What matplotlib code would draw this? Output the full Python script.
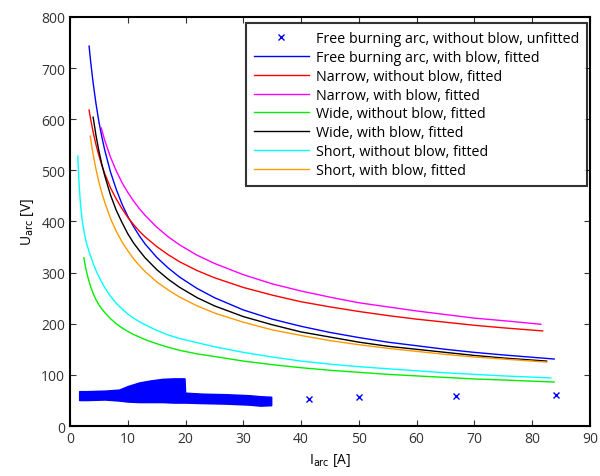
import numpy as np
import matplotlib
matplotlib.use("Agg")
import matplotlib.pyplot as plt

plt.rcParams['font.family'] = ['Open Sans', 'DejaVu Sans']

# --- measured data (unfitted, free burning arc without blow) ---
# dense cloud of measurements: outline of the band (I, upper U, lower U)
band_I = [1.6, 3, 6, 8.5, 10, 12, 14, 16, 18, 19.8, 19.9, 23, 27, 31, 33, 34.8]
band_hi = [68, 68, 69, 71, 78, 85, 89, 92, 93, 93, 65, 63, 62, 60, 58, 57]
band_lo = [51, 51, 52, 50, 48, 47, 47, 47, 46, 46, 46, 45, 44, 42, 40, 41]
# isolated measurement points
pts_I = [34.1, 41.4, 50.0, 66.8, 84.1]
pts_U = [51, 53, 57, 58, 60]

# --- fitted curves, values ---
blue_I = [3.3, 3.6, 4, 4.5, 5, 5.5, 6, 7, 8, 9, 10, 11, 12, 13, 15, 17, 19, 22, 25,
          30, 35, 40, 45, 50, 55, 60, 65, 70, 75, 83.8]
blue_U = [743, 710, 671, 630, 595, 566, 540, 497, 463, 434, 410, 390, 372, 356, 330, 309,
          291, 269, 251, 227, 209, 195, 183, 173, 164, 157, 150, 144, 139, 131]

red_I = [3.3, 3.6, 4, 4.5, 5, 5.5, 6, 7, 8, 9, 10, 11, 12, 13, 15, 17, 19, 22, 25,
         30, 35, 40, 45, 50, 55, 60, 65, 70, 75, 81.8]
red_U = [618, 598, 575, 550, 529, 510, 494, 466, 444, 425, 408, 394, 381, 370, 351, 335,
         321, 304, 290, 271, 256, 243, 233, 224, 216, 209, 203, 197, 192, 186]

mag_I = [5.4, 5.7, 6, 7, 8, 9, 10, 11, 12, 13, 15, 17, 19, 22, 25, 30, 35, 40, 45,
         50, 55, 60, 65, 70, 75, 81.5]
mag_U = [583, 571, 559, 526, 499, 476, 457, 440, 425, 412, 389, 370, 354, 334, 318,
         296, 278, 264, 252, 241, 233, 225, 218, 211, 206, 199]

green_I = [2.4, 2.7, 3, 3.5, 4, 4.5, 5, 5.5, 6, 7, 8, 9, 10, 11, 12, 13, 15, 17, 19,
           22, 25, 30, 35, 40, 45, 50, 55, 60, 65, 70, 75, 83.8]
green_U = [329, 310, 295, 275, 259, 247, 237, 229, 222, 210, 200, 192, 185, 179, 174,
           169, 161, 154, 148, 141, 136, 127, 120, 114, 109, 105, 101, 98, 95, 92, 90, 86]

black_I = [4.0, 4.5, 5, 5.5, 6, 7, 8, 9, 10, 11, 12, 13, 15, 17, 19, 22, 25, 30, 35,
           40, 45, 50, 55, 60, 65, 70, 75, 82.5]
black_U = [604, 568, 538, 512, 490, 452, 422, 398, 376, 358, 343, 329, 306, 287, 271,
           251, 235, 214, 198, 184, 174, 164, 156, 150, 144, 138, 133, 127]

cyan_I = [1.35, 1.45, 1.6, 1.8, 2.0, 2.25, 2.5, 2.75, 3, 3.5, 4, 4.5, 5, 5.5, 6, 7, 8,
          9, 10, 11, 12, 13, 15, 17, 19, 22, 25, 30, 35, 40, 45, 50, 55, 60, 65, 70,
          75, 83.2]
cyan_U = [528, 500, 468, 436, 412, 392, 376, 362, 352, 334, 318, 304, 292, 281, 271,
          254, 240, 229, 219, 211, 204, 198, 187, 178, 171, 163, 155, 144, 135, 127,
          121, 116, 112, 108, 104, 101, 98, 94]

orange_I = [3.5, 3.75, 4, 4.5, 5, 5.5, 6, 7, 8, 9, 10, 11, 12, 13, 15, 17, 19, 22, 25,
            30, 35, 40, 45, 50, 55, 60, 65, 70, 75, 82.5]
orange_U = [567, 548, 531, 502, 477, 456, 438, 406, 381, 360, 343, 327, 314, 302, 282,
            266, 252, 235, 221, 203, 188, 177, 167, 159, 152, 146, 140, 135, 131, 125]

fig = plt.figure(figsize=(6, 4.77), dpi=100)
ax = fig.add_axes([0.1167, 0.1048, 0.8666, 0.8575])

# measured cloud
ax.fill_between(band_I, band_lo, band_hi, color='blue', linewidth=1.2, edgecolor='blue')
ax.plot(pts_I, pts_U, 'x', color='blue', ms=5, mew=1,
        label='Free burning arc, without blow, unfitted')

lw = 1.0
ax.plot(blue_I, blue_U, color='blue', lw=lw, label='Free burning arc, with blow, fitted')
ax.plot(red_I, red_U, color='red', lw=lw, label='Narrow, without blow, fitted')
ax.plot(mag_I, mag_U, color='magenta', lw=lw, label='Narrow, with blow, fitted')
ax.plot(green_I, green_U, color='#00ee00', lw=lw, label='Wide, without blow, fitted')
ax.plot(black_I, black_U, color='black', lw=lw, label='Wide, with blow, fitted')
ax.plot(cyan_I, cyan_U, color='cyan', lw=lw, label='Short, without blow, fitted')
ax.plot(orange_I, orange_U, color='#ff9900', lw=lw, label='Short, with blow, fitted')

ax.set_xlim(0, 90)
ax.set_ylim(0, 800)
ax.set_xticks(range(0, 91, 10))
ax.set_yticks(range(0, 801, 100))
ax.tick_params(direction='in', top=True, right=True, labelsize=10, length=4, colors='#333333')
for s in ax.spines.values():
    s.set_linewidth(1.5)
ax.set_xlabel(r'I$_{\rm arc}$ [A]', fontsize=10)
ax.set_ylabel(r'U$_{\rm arc}$ [V]', fontsize=10)

leg = ax.legend(loc='upper right', bbox_to_anchor=(0.994, 0.985), borderaxespad=0,
                fontsize=10.3, frameon=True, fancybox=False,
                handlelength=3.9, labelspacing=0.27,
                borderpad=0.55, handletextpad=0.45)
leg.get_frame().set_edgecolor('black')
leg.get_frame().set_linewidth(1.5)

fig.savefig('out.png', dpi=100)
